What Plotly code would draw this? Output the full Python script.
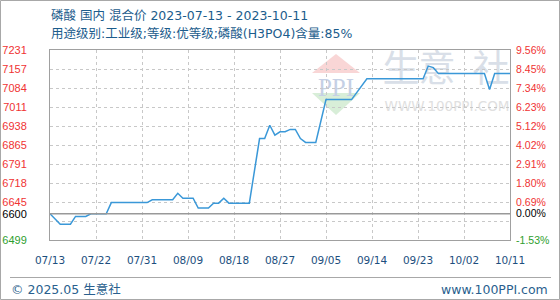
import plotly.graph_objects as go

# ---------------- data ----------------
dates = ["2023-07-13", "2023-07-15", "2023-07-17", "2023-07-18", "2023-07-20", "2023-07-21",
         "2023-07-24", "2023-07-25", "2023-08-01", "2023-08-02", "2023-08-06", "2023-08-07",
         "2023-08-08", "2023-08-10", "2023-08-11", "2023-08-13", "2023-08-14", "2023-08-15",
         "2023-08-16", "2023-08-17", "2023-08-21", "2023-08-23", "2023-08-24", "2023-08-25",
         "2023-08-26", "2023-08-27", "2023-08-28", "2023-08-29", "2023-08-30", "2023-08-31",
         "2023-09-01", "2023-09-03", "2023-09-05", "2023-09-10", "2023-09-13", "2023-09-24",
         "2023-09-25", "2023-09-26", "2023-09-27", "2023-10-06", "2023-10-07", "2023-10-08",
         "2023-10-11"]
prices = [6600, 6560, 6560, 6590, 6590, 6600,
          6600, 6643, 6643, 6654, 6654, 6679,
          6660, 6660, 6622, 6622, 6641, 6641,
          6660, 6641, 6641, 6890, 6890, 6941,
          6903, 6916, 6916, 6925, 6925, 6890,
          6875, 6875, 7040, 7040, 7120, 7120,
          7169, 7163, 7140, 7140, 7079, 7140,
          7140]

base_price = 6600
y_range = [6499, 7231]
ytick_vals = [6499, 6600, 6645.4, 6718.6, 6791.8, 6865.0, 6938.2, 7011.4, 7084.6, 7157.8, 7231]
ytick_text = ["6499", "6600", "6645", "6718", "6791", "6865", "6938", "7011", "7084", "7157", "7231"]
pct_text = ["-1.53%", "0.00%", "0.69%", "1.80%", "2.91%", "4.02%", "5.12%", "6.23%", "7.34%", "8.45%", "9.56%"]
ygrid_vals = [6572.2, 6645.4, 6718.6, 6791.8, 6865.0, 6938.2, 7011.4, 7084.6, 7157.8]

xtick_vals = ["2023-07-13", "2023-07-22", "2023-07-31", "2023-08-09", "2023-08-18", "2023-08-27",
              "2023-09-05", "2023-09-14", "2023-09-23", "2023-10-02", "2023-10-11"]
xtick_text = ["07/13", "07/22", "07/31", "08/09", "08/18", "08/27",
              "09/05", "09/14", "09/23", "10/02", "10/11"]

title_text = "磷酸 国内 混合价 2023-07-13 - 2023-10-11"
subtitle_text = "用途级别:工业级;等级:优等级;磷酸(H3PO4)含量:85%"
footer_left = "© 2025.05 生意社"
footer_right = "www.100PPI.com"

# ---------------- layout helpers ----------------
W, H = 560, 300
ML, MR, MT, MB = 50, 50, 50, 60
PW, PH = W - ML - MR, H - MT - MB


def px(x):
    return (x - ML) / PW


def py(y):
    return (H - MB - y) / PH


CJK = "DejaVu Sans, Noto Sans CJK SC, sans-serif"
RED, BLACK, GREEN = "#f03333", "#000000", "#2e9e2e"


def tick_color(v):
    if v < base_price:
        return GREEN
    if v == base_price:
        return BLACK
    return RED


left_labels = [f'<span style="color:{tick_color(v)}">{t}</span>' for v, t in zip(ytick_vals, ytick_text)]
right_labels = [f'<span style="color:{tick_color(v)}">{t}</span>' for v, t in zip(ytick_vals, pct_text)]
pct_vals = [v / base_price - 1 for v in ytick_vals]
pct_series = [p / base_price - 1 for p in prices]

fig = go.Figure()
# hidden traces for helper axes
fig.add_trace(go.Scatter(x=dates, y=prices, yaxis="y3", mode="lines",
                         line=dict(color="rgba(0,0,0,0)", width=0), hoverinfo="skip", showlegend=False))
fig.add_trace(go.Scatter(x=dates, y=pct_series, yaxis="y2", mode="lines",
                         line=dict(color="rgba(0,0,0,0)", width=0), hoverinfo="skip", showlegend=False))
fig.add_trace(go.Scatter(x=dates, y=prices, mode="lines",
                         line=dict(color="#3a98d8", width=1.5), showlegend=False))

grid_col = "#c8c8c8"
frame_col = "#a0a0a0"

fig.update_layout(
    width=W, height=H,
    margin=dict(l=ML, r=MR, t=MT, b=MB, autoexpand=False),
    paper_bgcolor="white", plot_bgcolor="white",
    showlegend=False,
    xaxis=dict(type="date", range=[dates[0], dates[-1]], tickvals=xtick_vals, ticktext=xtick_text,
               showgrid=True, gridcolor=grid_col, griddash="3px,3px", gridwidth=1,
               showline=True, mirror=True, linecolor=frame_col, linewidth=1, automargin=False,
               ticks="outside", ticklen=10, tickcolor="rgba(0,0,0,0)",
               tickfont=dict(family="DejaVu Sans", size=10.5, color="#1d4f7e"), zeroline=False),
    yaxis=dict(range=y_range, tickvals=ytick_vals, ticktext=left_labels, showgrid=False,
               showline=True, mirror=True, linecolor=frame_col, linewidth=1, automargin=False,
               ticks="outside", ticklen=20, tickcolor="rgba(0,0,0,0)",
               tickfont=dict(family="Liberation Sans", size=11), zeroline=False),
    yaxis2=dict(range=[y_range[0] / base_price - 1, y_range[1] / base_price - 1], overlaying="y",
                side="right", anchor="x", tickvals=pct_vals, ticktext=right_labels, showgrid=False,
                ticks="outside", ticklen=3, tickcolor="rgba(0,0,0,0)", automargin=False,
                tickfont=dict(family="Liberation Sans", size=10.5), zeroline=False),
    yaxis3=dict(range=y_range, overlaying="y", tickvals=ygrid_vals, showticklabels=False,
                showgrid=True, gridcolor=grid_col, griddash="3px,3px", gridwidth=1, zeroline=False,
                showline=False, automargin=False),
)

shapes = []
# watermark
shapes.append(dict(type="path", xref="paper", yref="paper", layer="below", line=dict(width=0),
                   fillcolor="#f9d6d6",
                   path=f"M {px(312)},{py(73)} L {px(360)},{py(73)} L {px(336)},{py(54)} Z"))
shapes.append(dict(type="path", xref="paper", yref="paper", layer="below", line=dict(width=0),
                   fillcolor="#d8eed8",
                   path=f"M {px(312)},{py(93)} L {px(360)},{py(93)} L {px(336)},{py(115)} Z"))
wm = [("PPI", 336, 84, 25, "#c5d0e5", "Liberation Serif"),
      ("生", 401, 72, 37, "#d9dfe8", "Noto Sans CJK SC"),
      ("意", 437, 72, 37, "#d9dfe8", "Noto Sans CJK SC"),
      ("社", 491, 72, 37, "#d9dfe8", "Noto Sans CJK SC"),
      ("WWW.100PPI.COM", 447, 105, 13.5, "#e0e0e0", "DejaVu Sans")]
for txt, cx, cy, sz, col, fam in wm:
    shapes.append(dict(type="rect", xref="paper", yref="paper", layer="below",
                       x0=px(cx - 70), x1=px(cx + 70), y0=py(cy + 20), y1=py(cy - 20),
                       line=dict(width=0), fillcolor="rgba(0,0,0,0)",
                       label=dict(text=txt, textposition="middle center",
                                  font=dict(size=sz, color=col, family=fam))))
# 6600 baseline
shapes.append(dict(type="line", xref="paper", yref="y", x0=0, x1=1, y0=base_price, y1=base_price,
                   line=dict(color="#999999", width=1.5), layer="above"))
# footer rule
shapes.append(dict(type="line", xref="paper", yref="paper", x0=px(10), x1=px(551), y0=py(277.5), y1=py(277.5),
                   line=dict(color="#a8a8a8", width=1)))
# outer border
shapes.append(dict(type="rect", xref="paper", yref="paper", x0=px(0.5), x1=px(559.5), y0=py(299.5), y1=py(0.5),
                   line=dict(color="#a8a8a8", width=1), fillcolor="rgba(0,0,0,0)"))
fig.update_layout(shapes=shapes)

ann_col = "#1b5c8c"
fig.add_annotation(text=title_text, xref="paper", yref="paper", x=px(49), y=py(15), xanchor="left",
                   yanchor="middle", showarrow=False, font=dict(family=CJK, size=12.5, color=ann_col))
fig.add_annotation(text=subtitle_text, xref="paper", yref="paper", x=px(49), y=py(33.5), xanchor="left",
                   yanchor="middle", showarrow=False, font=dict(family=CJK, size=12.5, color=ann_col))
fig.add_annotation(text=footer_left, xref="paper", yref="paper", x=px(9), y=py(289), xanchor="left",
                   yanchor="middle", showarrow=False, font=dict(family=CJK, size=12.5, color="#2a5f8e"))
fig.add_annotation(text=footer_right, xref="paper", yref="paper", x=px(550), y=py(289), xanchor="right",
                   yanchor="middle", showarrow=False, font=dict(family=CJK, size=12.5, color="#2a5f8e"))

fig.write_html("out.html")
